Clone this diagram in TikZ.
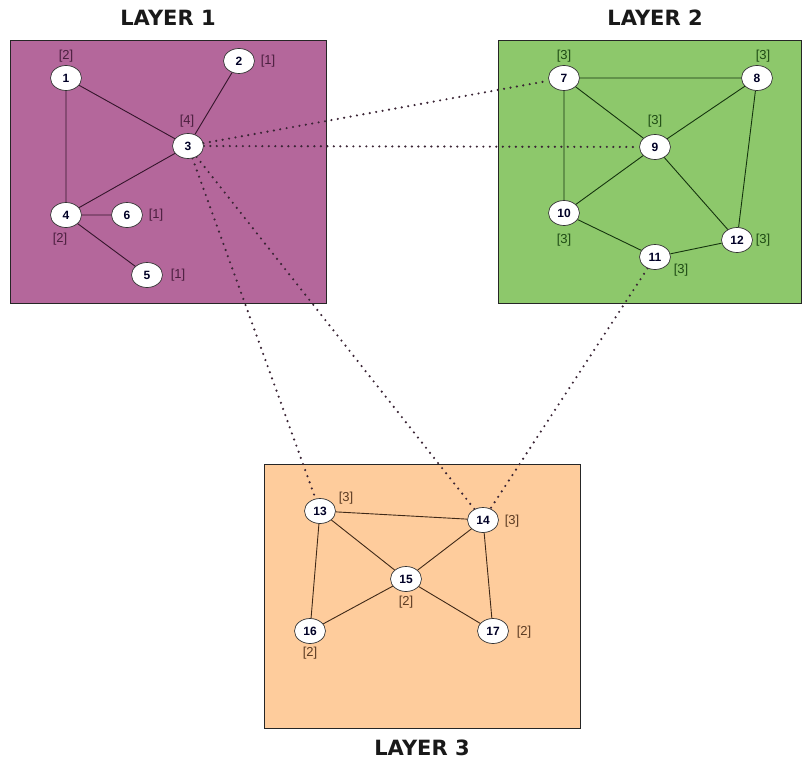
\documentclass[tikz,border=0pt]{standalone}
\usepackage{fontspec}
\setmainfont{Liberation Sans}
\newfontfamily\titlefont{DejaVu Sans}
\usetikzlibrary{shapes.geometric}
\definecolor{purplebg}{HTML}{B4679B}
\definecolor{greenbg}{HTML}{8DC86B}
\definecolor{orangebg}{HTML}{FECC9C}
\definecolor{purpleink}{HTML}{4A1E3E}
\definecolor{greenink}{HTML}{1E4A14}
\definecolor{orangeink}{HTML}{5A3A22}
\definecolor{dotink}{HTML}{3A2434}
\pgfdeclarelayer{panels}
\pgfdeclarelayer{edges}
\pgfsetlayers{panels,edges,main}
\tikzset{
  layerbox/.style={draw=black!85, line width=0.8pt},
  vertex/.style={ellipse, draw=black!80, fill=white, line width=0.7pt,
    minimum width=31pt, minimum height=25pt, inner sep=0pt,
    font=\fontsize{12}{13}\selectfont\bfseries, text=black!85!blue},
  deg/.style={font=\fontsize{13}{14}\selectfont},
  title/.style={font=\titlefont\fontsize{21}{24}\selectfont\bfseries, text=black!90},
  link/.style={line width=0.9pt},
  interlink/.style={draw=dotink, line width=2.4pt, line cap=round,
    dash pattern=on 0pt off 6.5pt},
}
\begin{document}
\begin{tikzpicture}[x=1pt,y=-1pt]
\useasboundingbox (0,0) rectangle (802,762);

% layer panels
\begin{pgfonlayer}{panels}
\fill[white] (0,0) rectangle (802,762);
\draw[layerbox, fill=purplebg] (10,40) rectangle (326,303);
\draw[layerbox, fill=greenbg] (498,40) rectangle (801,303);
\draw[layerbox, fill=orangebg] (264,464) rectangle (580,728);
\end{pgfonlayer}

% layer titles
\node[title] (t1) at (168,18) {LAYER 1};
\node[title] (t2) at (655,18) {LAYER 2};
\node[title] (t3) at (422,748) {LAYER 3};

% layer 1 vertices
\node[vertex] (n1) at (66,78) {1};
\node[vertex] (n2) at (239,61) {2};
\node[vertex] (n3) at (188,146) {3};
\node[vertex] (n4) at (66,215) {4};
\node[vertex] (n5) at (147,275) {5};
\node[vertex] (n6) at (127,215) {6};

% layer 2 vertices
\node[vertex] (n7) at (564,78) {7};
\node[vertex] (n8) at (757,78) {8};
\node[vertex] (n9) at (655,147) {9};
\node[vertex] (n10) at (564,213) {10};
\node[vertex] (n11) at (655,257) {11};
\node[vertex] (n12) at (737,240) {12};

% layer 3 vertices
\node[vertex] (n13) at (320,511) {13};
\node[vertex] (n14) at (483,520) {14};
\node[vertex] (n15) at (406,579) {15};
\node[vertex] (n16) at (310,631) {16};
\node[vertex] (n17) at (493,631) {17};

\begin{pgfonlayer}{edges}
% edges inside each layer
\draw[link, purpleink!70!black] (n1) -- (n3) (n2) -- (n3) (n1) -- (n4)
  (n3) -- (n4) (n4) -- (n6) (n4) -- (n5);
\draw[link, greenink!70!black] (n7) -- (n8) (n7) -- (n9) (n7) -- (n10)
  (n8) -- (n9) (n8) -- (n12) (n9) -- (n10) (n9) -- (n12)
  (n10) -- (n11) (n11) -- (n12);
\draw[link, orangeink!70!black] (n13) -- (n14) (n13) -- (n15) (n13) -- (n16)
  (n14) -- (n15) (n14) -- (n17) (n15) -- (n16) (n15) -- (n17);

% links between layers
\draw[interlink] (n3) -- (n7);
\draw[interlink] (n3) -- (n9);
\draw[interlink] (n3) -- (n13);
\draw[interlink] (n3) -- (n14);
\draw[interlink] (n11) -- (n14);
\end{pgfonlayer}

% degree labels
\begin{scope}[text=purpleink]
\node[deg] (d1) at (66,56) {[2]};
\node[deg] (d2) at (268,61) {[1]};
\node[deg] (d3) at (187,121) {[4]};
\node[deg] (d4) at (60,239) {[2]};
\node[deg] (d6) at (156,215) {[1]};
\node[deg] (d5) at (178,275) {[1]};
\end{scope}
\begin{scope}[text=greenink]
\node[deg] (d7) at (564,56) {[3]};
\node[deg] (d8) at (763,56) {[3]};
\node[deg] (d9) at (655,121) {[3]};
\node[deg] (d10) at (564,240) {[3]};
\node[deg] (d11) at (681,270) {[3]};
\node[deg] (d12) at (763,240) {[3]};
\end{scope}
\begin{scope}[text=orangeink]
\node[deg] (d13) at (346,498) {[3]};
\node[deg] (d14) at (512,521) {[3]};
\node[deg] (d15) at (406,602) {[2]};
\node[deg] (d16) at (310,653) {[2]};
\node[deg] (d17) at (524,632) {[2]};
\end{scope}
\end{tikzpicture}
\end{document}
